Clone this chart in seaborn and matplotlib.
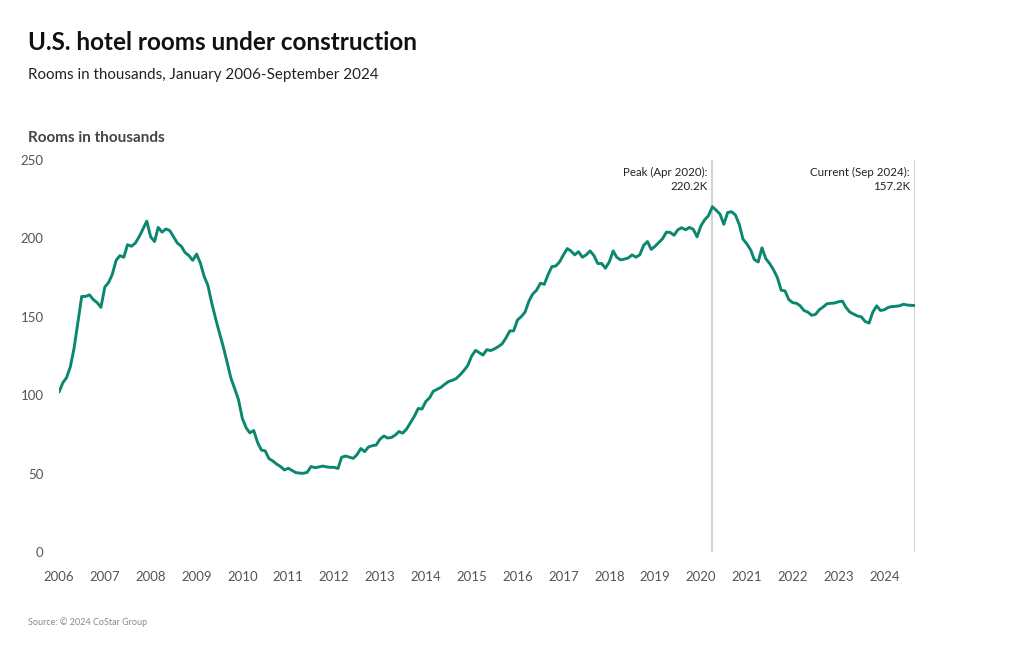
import pandas as pd
import numpy as np
import matplotlib
matplotlib.use("Agg")
import matplotlib.pyplot as plt
import seaborn as sns

# Monthly rooms under construction (thousands), Jan 2006 - Sep 2024
values_2006 = [102, 108, 111, 118, 130, 147, 163, 163, 164, 161, 159, 156]
values_2007 = [169, 172, 177, 186, 189, 188, 196, 195, 197, 201, 206, 211]
values_2008 = [201, 198, 207, 204, 206, 205, 201, 197, 195, 191, 189, 186]
values_2009 = [190, 184, 176, 170, 159, 149, 140, 131, 121, 111, 104, 97]
values_2010 = [85, 79, 76, 77.5, 70, 65, 64.5, 59.5, 58, 56, 54.5, 52.3]
values_2011 = [53.4, 52, 50.7, 50.3, 50.2, 50.8, 54.5, 53.8, 54.2, 54.8, 54.3, 54]
values_2012 = [54, 53.3, 60.4, 61.2, 60.5, 59.7, 62, 66, 64, 67, 67.8, 68.2]
values_2013 = [72, 74, 72.7, 73, 74.5, 76.8, 75.8, 78.5, 82.5, 86.5, 91.5, 91.2]
values_2014 = [96, 98.5, 102.5, 103.8, 105, 107, 108.7, 109.5, 110.7, 113, 115.8, 119]
values_2015 = [125, 128.6, 127.2, 125.6, 129, 128.5, 129.5, 131, 132.8, 136.5, 141, 141]
values_2016 = [148, 150.2, 153, 160, 164.5, 167, 171.4, 170.7, 177, 182, 182.4, 185]
values_2017 = [189.5, 193.5, 192, 189.5, 191.5, 188, 189.5, 192, 189, 184, 184, 181]
values_2018 = [185, 192, 188, 186.3, 186.8, 187.5, 189.5, 188, 189.5, 195.5, 198, 193]
values_2019 = [195, 197.5, 199.8, 204, 203.8, 202, 205.5, 206.8, 205.5, 207, 205.8, 201]
values_2020 = [208, 212, 214.5, 220.2, 218, 215.5, 209, 216.5, 217, 215, 209, 199.5]
values_2021 = [196.5, 192.5, 186.5, 185, 194, 187, 184, 180, 175, 167, 166.5, 161]
values_2022 = [159, 158.6, 157, 154, 153, 151, 151.5, 154.5, 156.3, 158.3, 158.6, 158.8]
values_2023 = [159.6, 160, 156, 153, 151.8, 150.5, 150, 147, 146, 153, 157, 154]
values_2024 = [154.5, 156, 156.5, 156.7, 157, 158, 157.5, 157.3, 157.2]

rooms = (values_2006 + values_2007 + values_2008 + values_2009 + values_2010 +
         values_2011 + values_2012 + values_2013 + values_2014 + values_2015 +
         values_2016 + values_2017 + values_2018 + values_2019 + values_2020 +
         values_2021 + values_2022 + values_2023 + values_2024)
months = pd.date_range("2006-01-01", periods=len(rooms), freq="MS")
year_ticks = list(range(2006, 2025))
y_ticks = [0, 50, 100, 150, 200, 250]

peak_date = pd.Timestamp("2020-04-01")
peak_label = "Peak (Apr 2020):\n220.2K"
current_date = pd.Timestamp("2024-09-01")
current_label = "Current (Sep 2024):\n157.2K"

df = pd.DataFrame({"month": months, "rooms": rooms})

sns.set_theme(style="white")
plt.rcParams["font.family"] = ["Lato", "DejaVu Sans"]

fig = plt.figure(figsize=(10.2, 6.5), dpi=100)
ax = fig.add_axes([59 / 1020, 1 - 552 / 650, (915 - 59) / 1020, (552 - 160) / 650])

sns.lineplot(data=df, x="month", y="rooms", ax=ax, color="#0b8770", linewidth=2.1)

for d in (peak_date, current_date):
    ax.axvline(d, color="#cfcfcf", linewidth=1.3, zorder=0)

ax.text(peak_date - pd.Timedelta(days=40), 245.5, peak_label, ha="right", va="top",
        fontsize=8.3, color="#222222", linespacing=1.35)
ax.text(current_date - pd.Timedelta(days=40), 245.5, current_label, ha="right", va="top",
        fontsize=8.3, color="#222222", linespacing=1.35)

ax.set_xlim(months[0], months[-1])
ax.set_ylim(0, 250)
ax.set_xticks([pd.Timestamp(f"{y}-01-01") for y in year_ticks])
ax.set_xticklabels([str(y) for y in year_ticks])
ax.set_yticks(y_ticks)
ax.set_yticklabels([str(v) for v in y_ticks])
ax.tick_params(axis="both", length=0, labelsize=9.5, colors="#555555")
ax.tick_params(axis="y", pad=11)
ax.tick_params(axis="x", pad=14)
ax.set_xlabel("")
ax.set_ylabel("")
for s in ax.spines.values():
    s.set_visible(False)
ax.grid(False)

fig.text(28 / 1020, 1 - 43 / 650, "U.S. hotel rooms under construction",
         fontsize=17.5, fontweight="bold", color="#111111", va="center", ha="left")
fig.text(28 / 1020, 1 - 75 / 650, "Rooms in thousands, January 2006-September 2024",
         fontsize=10.9, color="#222222", va="center", ha="left")
fig.text(28 / 1020, 1 - 138 / 650, "Rooms in thousands",
         fontsize=11, fontweight="bold", color="#444444", va="center", ha="left")
fig.text(28 / 1020, 1 - 622 / 650, "Source: © 2024 CoStar Group",
         fontsize=6.5, color="#8a8a8a", va="center", ha="left")

fig.savefig("out.png", dpi=100)
